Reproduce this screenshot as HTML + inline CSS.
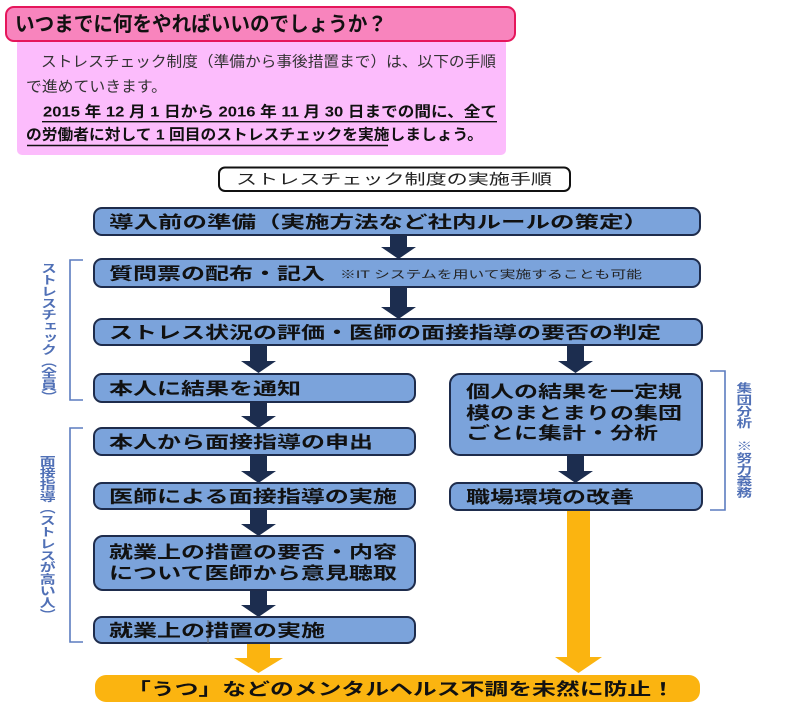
<!DOCTYPE html>
<html><head><meta charset="utf-8"><style>
html,body{margin:0;padding:0;background:#fff;}
body{width:802px;height:707px;position:relative;overflow:hidden;font-family:"Liberation Sans","Noto Sans CJK JP",sans-serif;}
svg{position:absolute;left:0;top:0;}
svg text{font-family:"Liberation Sans","Noto Sans CJK JP",sans-serif;}
.vt{position:absolute;writing-mode:vertical-rl;font-weight:bold;color:#5070b6;line-height:14px;width:14px;white-space:nowrap;transform:scaleX(1.35);transform-origin:center;}
</style></head><body>
<svg width="802" height="707" viewBox="0 0 802 707" xmlns="http://www.w3.org/2000/svg">
<!-- header -->
<rect x="17" y="30" width="489" height="125" rx="5" fill="#fcbcfc"/>
<rect x="6" y="7" width="509" height="34" rx="8" fill="#f884bd" stroke="#e5165b" stroke-width="2"/>
<text x="15" y="31" font-size="20.5" font-weight="bold" fill="#111" textLength="372" lengthAdjust="spacingAndGlyphs">いつまでに何をやればいいのでしょうか？</text>
<text x="41" y="66.5" font-size="15" fill="#333" textLength="455" lengthAdjust="spacingAndGlyphs">ストレスチェック制度（準備から事後措置まで）は、以下の手順</text>
<text x="26" y="91.5" font-size="15" fill="#333" textLength="141" lengthAdjust="spacingAndGlyphs">で進めていきます。</text>
<text x="43" y="116.5" font-size="15" font-weight="bold" fill="#111" textLength="454" lengthAdjust="spacingAndGlyphs">2015 年 12 月 1 日から 2016 年 11 月 30 日までの間に、全て</text>
<text x="26" y="139.5" font-size="15" font-weight="bold" fill="#111" textLength="457" lengthAdjust="spacingAndGlyphs">の労働者に対して 1 回目のストレスチェックを実施しましょう。</text>
<line x1="42" y1="121.7" x2="497" y2="121.7" stroke="#111" stroke-width="1.4"/>
<line x1="27" y1="145.5" x2="388" y2="145.5" stroke="#111" stroke-width="1.4"/>

<!-- title box -->
<rect x="219" y="167.5" width="351" height="23.5" rx="6" fill="#fff" stroke="#111" stroke-width="2"/>
<text x="236" y="184.5" font-size="14.5" fill="#222" textLength="316" lengthAdjust="spacingAndGlyphs">ストレスチェック制度の実施手順</text>

<!-- brackets -->
<g fill="none" stroke="#5b7cbf" stroke-width="1.6">
<polyline points="83,260 70,260 70,400 83,400"/>
<polyline points="83,428 70,428 70,642 83,642"/>
<polyline points="710,371 725,371 725,510 710,510"/>
</g>

<!-- dark arrows -->
<g fill="#1c2d4f">
<polygon points="390,235 407,235 407,247 416,247 398.5,259 381,247 390,247"/>
<polygon points="390,287 407,287 407,307 416,307 398.5,319 381,307 390,307"/>
<polygon points="250,345 267,345 267,361 276,361 258.5,373 241,361 250,361"/>
<polygon points="567,345 584,345 584,361 593,361 575.5,373 558,361 567,361"/>
<polygon points="250,402 267,402 267,416 276,416 258.5,428 241,416 250,416"/>
<polygon points="250,455 267,455 267,471 276,471 258.5,483 241,471 250,471"/>
<polygon points="250,509 267,509 267,524 276,524 258.5,536 241,524 250,524"/>
<polygon points="250,590 267,590 267,605 276,605 258.5,617 241,605 250,605"/>
<polygon points="567,455 584,455 584,471 593,471 575.5,483 558,471 567,471"/>
</g>
<!-- orange arrows -->
<g fill="#fbb410">
<polygon points="247,643 270,643 270,658 283,658 258.5,673 234,658 247,658"/>
<polygon points="567,509 590,509 590,657 602,657 578.5,673 555,657 567,657"/>
<rect x="95" y="675" width="605" height="27" rx="11"/>
</g>

<!-- nodes -->
<g fill="#7ba3db" stroke="#1e2c4c" stroke-width="2">
<rect x="94" y="208" width="606" height="27" rx="8"/>
<rect x="94" y="259" width="606" height="28" rx="8"/>
<rect x="94" y="319" width="608" height="26" rx="8"/>
<rect x="94" y="374" width="321" height="28" rx="8"/>
<rect x="94" y="428" width="321" height="27" rx="8"/>
<rect x="94" y="483" width="321" height="26" rx="8"/>
<rect x="94" y="536" width="321" height="54" rx="9"/>
<rect x="94" y="617" width="321" height="26" rx="8"/>
<rect x="450" y="374" width="252" height="81" rx="10"/>
<rect x="450" y="483" width="252" height="27" rx="8"/>
</g>
<line x1="208" y1="620" x2="208" y2="643" stroke="#666" stroke-width="1"/>

<g font-size="17" font-weight="bold" fill="#111">
<text x="109" y="227.8" textLength="539" lengthAdjust="spacingAndGlyphs">導入前の準備（実施方法など社内ルールの策定）</text>
<text x="109" y="279.3" textLength="216" lengthAdjust="spacingAndGlyphs">質問票の配布・記入</text>
<text x="109" y="338.3" textLength="552" lengthAdjust="spacingAndGlyphs">ストレス状況の評価・医師の面接指導の要否の判定</text>
<text x="109" y="394.3" textLength="192" lengthAdjust="spacingAndGlyphs">本人に結果を通知</text>
<text x="109" y="447.8" textLength="264" lengthAdjust="spacingAndGlyphs">本人から面接指導の申出</text>
<text x="109" y="502.3" textLength="288" lengthAdjust="spacingAndGlyphs">医師による面接指導の実施</text>
<text x="109" y="557.8" textLength="288" lengthAdjust="spacingAndGlyphs">就業上の措置の要否・内容</text>
<text x="109" y="578.8" textLength="288" lengthAdjust="spacingAndGlyphs">について医師から意見聴取</text>
<text x="109" y="636.3" textLength="216" lengthAdjust="spacingAndGlyphs">就業上の措置の実施</text>
<text x="466" y="397.3" textLength="216" lengthAdjust="spacingAndGlyphs">個人の結果を一定規</text>
<text x="466" y="418.8" textLength="216" lengthAdjust="spacingAndGlyphs">模のまとまりの集団</text>
<text x="466" y="438.8" textLength="192" lengthAdjust="spacingAndGlyphs">ごとに集計・分析</text>
<text x="466" y="502.8" textLength="168" lengthAdjust="spacingAndGlyphs">職場環境の改善</text>
<text x="127" y="694.8" textLength="548" lengthAdjust="spacingAndGlyphs">「うつ」などのメンタルヘルス不調を未然に防止！</text>
</g>
<text x="340" y="278" font-size="11" fill="#222" textLength="302" lengthAdjust="spacingAndGlyphs">※IT システムを用いて実施することも可能</text>
</svg>
<div class="vt" style="left:40px;top:262px;font-size:11.7px;">ストレスチェック（全員）</div>
<div class="vt" style="left:40px;top:455px;font-size:11.8px;">面接指導（ストレスが高い人）</div>
<div class="vt" style="left:736px;top:382px;font-size:11.6px;">集団分析　※努力義務</div>
</body></html>
